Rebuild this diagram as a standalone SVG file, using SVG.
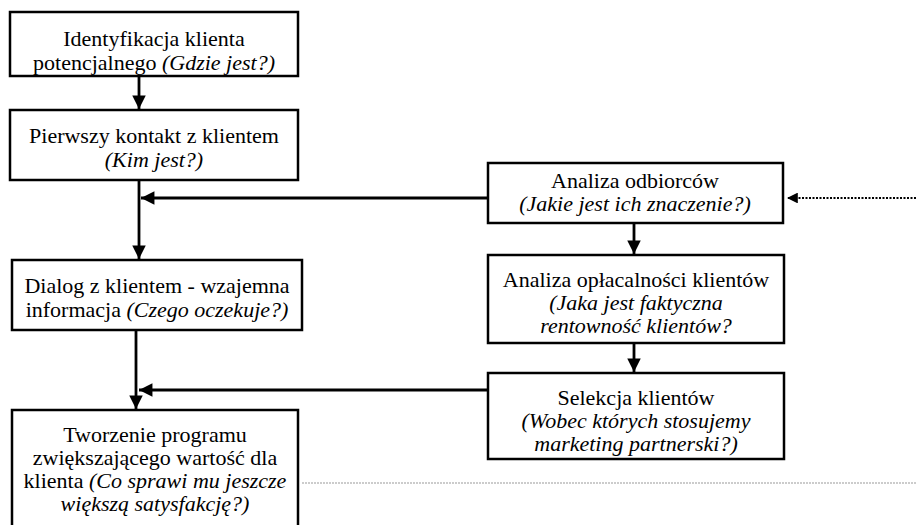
<svg xmlns="http://www.w3.org/2000/svg" width="916" height="525" viewBox="0 0 916 525">
  <style>
    .box { fill: #fff; stroke: #000; stroke-width: 2.5; }
    .t { font-family: 'Liberation Serif', 'DejaVu Serif', serif; font-size: 22px; fill: #000; text-anchor: middle; }
    .i { font-style: italic; }
    .link { stroke: #000; stroke-width: 2.8; fill: none; }
    .dot { stroke: #000; stroke-width: 1.8; stroke-dasharray: 2 1.5; fill: none; }
    .faint { stroke: #999; stroke-width: 1; stroke-dasharray: 2 1; fill: none; }
  </style>
  <defs>
    <marker id="head" viewBox="0 0 10 10" refX="10" refY="5" markerWidth="7.5" markerHeight="4.8" markerUnits="strokeWidth" orient="auto">
      <path d="M0,0 L10,5 L0,10 Z" fill="#000"/>
    </marker>
    <marker id="headSmall" viewBox="0 0 10 10" refX="10" refY="5" markerWidth="9" markerHeight="6" markerUnits="strokeWidth" orient="auto">
      <path d="M0,0 L10,5 L0,10 Z" fill="#000"/>
    </marker>
  </defs>

  <rect width="916" height="525" fill="#fff"/>

  <g id="connectors">
    <line class="link" x1="139" y1="77" x2="139" y2="109" marker-end="url(#head)"/>
    <line class="link" x1="139" y1="181" x2="139" y2="259" marker-end="url(#head)"/>
    <line class="link" x1="487" y1="198" x2="141" y2="198" marker-end="url(#head)"/>
    <line class="link" x1="136" y1="331" x2="136" y2="409" marker-end="url(#head)"/>
    <line class="link" x1="487" y1="390" x2="139" y2="390" marker-end="url(#head)"/>
    <line class="link" x1="634" y1="224" x2="634" y2="254" marker-end="url(#head)"/>
    <line class="link" x1="634" y1="344" x2="634" y2="372" marker-end="url(#head)"/>
    <line class="dot" x1="916" y1="198" x2="787" y2="198" marker-end="url(#headSmall)"/>
    <line class="faint" x1="302" y1="483" x2="916" y2="483"/>
  </g>

  <g id="identyfikacja">
    <rect class="box" x="10" y="12" width="288" height="64"/>
    <text class="t" x="154" y="46">Identyfikacja klienta</text>
    <text class="t" x="154" y="70">potencjalnego <tspan class="i">(Gdzie jest?)</tspan></text>
  </g>

  <g id="pierwszy-kontakt">
    <rect class="box" x="10" y="110" width="288" height="70"/>
    <text class="t" x="154" y="143">Pierwszy kontakt z klientem</text>
    <text class="t i" x="154" y="167">(Kim jest?)</text>
  </g>

  <g id="dialog">
    <rect class="box" x="12" y="260" width="290" height="70"/>
    <text class="t" x="157" y="293">Dialog z klientem - wzajemna</text>
    <text class="t" x="157" y="317">informacja <tspan class="i">(Czego oczekuje?)</tspan></text>
  </g>

  <g id="tworzenie">
    <rect class="box" x="12" y="410" width="286" height="130"/>
    <text class="t" x="155" y="442">Tworzenie programu</text>
    <text class="t" x="155" y="465">zwiększającego wartość dla</text>
    <text class="t" x="155" y="488">klienta <tspan class="i">(Co sprawi mu jeszcze</tspan></text>
    <text class="t i" x="155" y="511">większą satysfakcję?)</text>
  </g>

  <g id="analiza-odbiorcow">
    <rect class="box" x="488" y="163" width="295" height="60"/>
    <text class="t" x="635" y="188">Analiza odbiorców</text>
    <text class="t i" x="635" y="211">(Jakie jest ich znaczenie?)</text>
  </g>

  <g id="analiza-oplacalnosci">
    <rect class="box" x="488" y="255" width="296" height="88"/>
    <text class="t" x="636" y="287">Analiza opłacalności klientów</text>
    <text class="t i" x="636" y="310">(Jaka jest faktyczna</text>
    <text class="t i" x="636" y="333">rentowność klientów?</text>
  </g>

  <g id="selekcja">
    <rect class="box" x="488" y="373" width="296" height="86"/>
    <text class="t" x="636" y="405">Selekcja klientów</text>
    <text class="t i" x="636" y="428">(Wobec których stosujemy</text>
    <text class="t i" x="636" y="451">marketing partnerski?)</text>
  </g>
</svg>
